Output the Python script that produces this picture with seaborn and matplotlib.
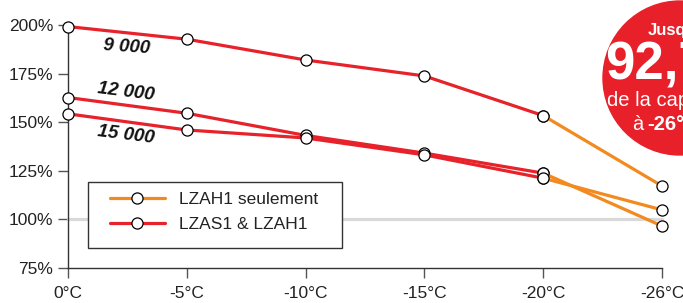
import matplotlib
matplotlib.use("Agg")
import matplotlib.pyplot as plt
import seaborn as sns
import pandas as pd
from matplotlib.lines import Line2D
from matplotlib.patches import Circle, Rectangle

temps = ["0°C", "-5°C", "-10°C", "-15°C", "-20°C", "-26°C"]
cap_9000 = [199.2, 192.7, 182.0, 173.8, 153.4, 117.2]
cap_12000 = [162.7, 154.6, 143.2, 134.1, 123.8, 96.6]
cap_15000 = [154.3, 146.0, 141.9, 133.2, 121.2, 104.9]
capacities = ["9 000", "12 000", "15 000"]
modes = ["LZAS1 & LZAH1", "LZAH1 seulement"]
y_ticks = [75, 100, 125, 150, 175, 200]
y_ticklabels = ["75%", "100%", "125%", "150%", "175%", "200%"]

RED = "#E8222B"
ORANGE = "#F28A1F"

rows = []
for cap, vals in zip(capacities, [cap_9000, cap_12000, cap_15000]):
    for i, (t, v) in enumerate(zip(temps, vals)):
        if i <= 4:
            rows.append(dict(pos=i, temp=t, value=v, cap=cap, mode=modes[0]))
        if i >= 4:
            rows.append(dict(pos=i, temp=t, value=v, cap=cap, mode=modes[1]))
df = pd.DataFrame(rows)

sns.set_theme(style="white")
plt.rcParams["font.family"] = ["Liberation Sans", "DejaVu Sans"]

fig = plt.figure(figsize=(6.83, 3.03), dpi=100)
ax = fig.add_axes([68 / 683, 1 - 268 / 303, (662 - 68) / 683, (268 - 25) / 303])

# 100% reference line
ax.axhline(100, color="#d9d9d9", lw=2.3, zorder=1)

sns.lineplot(data=df, x="pos", y="value", hue="mode", units="cap",
             estimator=None, sort=False, ax=ax,
             palette={modes[0]: RED, modes[1]: ORANGE},
             hue_order=modes, legend=False,
             lw=2.3, marker="o", markersize=8, markerfacecolor="white",
             markeredgecolor="black", markeredgewidth=0.9, zorder=3)
for ln in ax.lines:
    ln.set_clip_on(False)

ax.set_xlim(0, len(temps) - 1)
ax.set_ylim(75, 200)
ax.set_xticks(range(len(temps)))
ax.set_xticklabels(temps, fontsize=12.5, color="#222222")
ax.set_yticks(y_ticks)
ax.set_yticklabels(y_ticklabels, fontsize=12.5, color="#222222")
ax.set_xlabel("")
ax.set_ylabel("")
for s in ["top", "right"]:
    ax.spines[s].set_visible(False)
for s in ["left", "bottom"]:
    ax.spines[s].set_color("#333333")
    ax.spines[s].set_linewidth(1.0)
ax.tick_params(axis="both", which="both", length=7.2, width=1.0, color="#555555",
               direction="out", pad=3.5, left=True, bottom=True)
ax.tick_params(axis="x", pad=6)
ax.grid(False)
ax.patch.set_alpha(0)

# capacity labels
lab_pos = [(0.49, 188.7, -4), (0.49, 165.6, -7), (0.49, 143.5, -7)]
for cap, (x, y, r) in zip(capacities, lab_pos):
    ax.text(x, y, cap, ha="center", va="center", fontsize=13.5, fontweight="bold",
            fontstyle="italic", rotation=r, color="#111111")

# legend frame
ax.add_patch(Rectangle((88 / 683, 1 - 248 / 303), 254 / 683, 66 / 303,
                       transform=fig.transFigure, facecolor="white",
                       edgecolor="#333333", lw=1.0, zorder=4, clip_on=False))
handles = [
    Line2D([], [], color=ORANGE, lw=2.3, marker="o", markersize=8,
           markerfacecolor="white", markeredgecolor="black", markeredgewidth=0.9),
    Line2D([], [], color=RED, lw=2.3, marker="o", markersize=8,
           markerfacecolor="white", markeredgecolor="black", markeredgewidth=0.9),
]
leg = ax.legend(handles, [modes[1], modes[0]], loc="upper left",
                bbox_to_anchor=(110 / 683, 1 - 192 / 303),
                bbox_transform=fig.transFigure,
                fontsize=12.5, frameon=False, handlelength=3.16,
                handletextpad=0.8, borderpad=0, labelspacing=0.55,
                numpoints=1, borderaxespad=0)
leg.set_zorder(5)
for t in leg.get_texts():
    t.set_color("#222222")

# badge overlay
ov = fig.add_axes([0, 0, 1, 1], zorder=10)
ov.set_xlim(0, 683)
ov.set_ylim(303, 0)
ov.axis("off")
ov.patch.set_alpha(0)
cx, cy = 680, 78
ov.add_patch(Circle((cx, cy), 77, color="#E8202A", clip_on=False))
ov.text(648, 31, "Jusqu'à", ha="left", va="center", color="white",
        fontsize=12, fontweight="bold")
ov.text(605, 66, "92,7%", ha="left", va="center", color="white",
        fontsize=38, fontweight="bold")
ov.text(607, 101, "de la capacité", ha="left", va="center", color="white",
        fontsize=14.5)
ov.text(632, 125, "à", ha="left", va="center", color="white", fontsize=14.5)
ov.text(647, 125, "-26°C", ha="left", va="center", color="white",
        fontsize=14.5, fontweight="bold")

fig.savefig("out.png", dpi=100)
